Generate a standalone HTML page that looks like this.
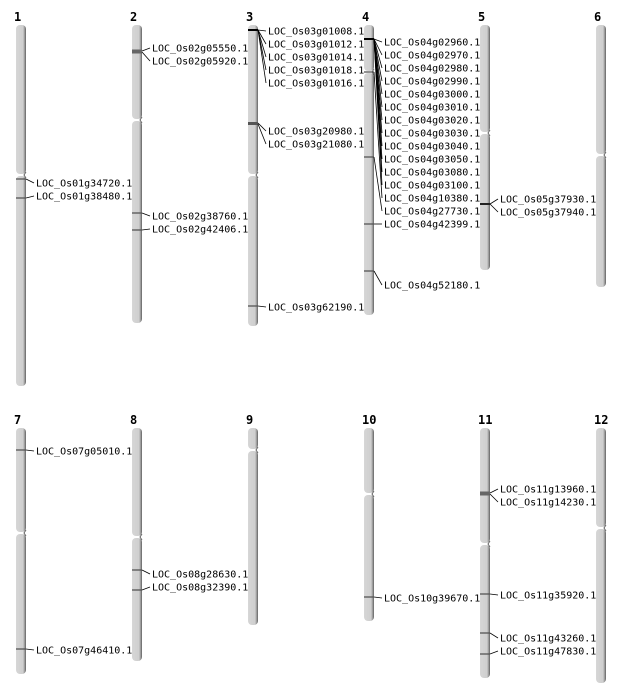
<!DOCTYPE html>
<html><head><meta charset="utf-8"><style>
html,body{margin:0;padding:0;background:#fff;width:634px;height:700px;overflow:hidden}
svg text{font-family:"DejaVu Sans Mono","Liberation Mono",monospace;font-size:10px;fill:#000}
svg text.t{font-family:"DejaVu Sans Mono","Liberation Mono",monospace;font-weight:bold;font-size:12px}
</style></head><body>
<svg id="s" width="634" height="700" xmlns="http://www.w3.org/2000/svg">
<defs><linearGradient id="g" x1="0" x2="1" y1="0" y2="0">
<stop offset="0" stop-color="#d6d6d6"/><stop offset="0.7" stop-color="#cfcfcf"/><stop offset="0.85" stop-color="#a0a0a0"/><stop offset="1" stop-color="#606060"/></linearGradient></defs>
</svg>
<script>
var s=document.getElementById('s'),NS='http://www.w3.org/2000/svg';
function el(n,a,t){var e=document.createElementNS(NS,n);for(var k in a)e.setAttribute(k,a[k]);if(t)e.textContent=t;s.appendChild(e);return e;}
var C=[
['1',16,25,175,386,[[179,183,'LOC_Os01g34720.1'],[198,196,'LOC_Os01g38480.1']]],
['2',132,25,120,323,[[51,48,'LOC_Os02g05550.1','#666',3],[52,61,'LOC_Os02g05920.1','#666',3],[213,216,'LOC_Os02g38760.1'],[230,229,'LOC_Os02g42406.1']]],
['3',248,25,175,326,[[30,31,'LOC_Os03g01008.1','#000',2],[30,44,'LOC_Os03g01012.1','#000',2],[30,57,'LOC_Os03g01014.1','#000',2],[30,70,'LOC_Os03g01018.1','#000',2],[30,83,'LOC_Os03g01016.1','#000',2],[123,131,'LOC_Os03g20980.1','#555',2],[124,144,'LOC_Os03g21080.1','#555',2],[306,307,'LOC_Os03g62190.1']]],
['4',364,25,72,315,[[39,42,'LOC_Os04g02960.1','#000',2],[39,55,'LOC_Os04g02970.1','#000',2],[39,68,'LOC_Os04g02980.1','#000',2],[39,81,'LOC_Os04g02990.1','#000',2],[39,94,'LOC_Os04g03000.1','#000',2],[39,107,'LOC_Os04g03010.1','#000',2],[39,120,'LOC_Os04g03020.1','#000',2],[39,133,'LOC_Os04g03030.1','#000',2],[39,146,'LOC_Os04g03040.1','#000',2],[39,159,'LOC_Os04g03050.1','#000',2],[39,172,'LOC_Os04g03080.1','#000',2],[39,185,'LOC_Os04g03100.1','#000',2],[72,198,'LOC_Os04g10380.1'],[157,211,'LOC_Os04g27730.1'],[224,224,'LOC_Os04g42399.1'],[271,285,'LOC_Os04g52180.1']]],
['5',480,25,133,270,[[204,199,'LOC_Os05g37930.1','#222',2],[204,212,'LOC_Os05g37940.1','#222',2]]],
['6',596,25,155,287,[]],
['7',16,428,533,674,[[450,451,'LOC_Os07g05010.1'],[649,650,'LOC_Os07g46410.1']]],
['8',132,428,537,661,[[570,574,'LOC_Os08g28630.1'],[590,587,'LOC_Os08g32390.1']]],
['9',248,428,450,625,[]],
['10',364,428,494,621,[[597,598,'LOC_Os10g39670.1']]],
['11',480,428,544,678,[[493,489,'LOC_Os11g13960.1','#666',3],[494,502,'LOC_Os11g14230.1','#666',3],[594,595,'LOC_Os11g35920.1'],[633,638,'LOC_Os11g43260.1'],[654,651,'LOC_Os11g47830.1']]],
['12',596,428,528,683,[]]];
C.forEach(function(c){
 var x=c[1],t=c[2],m=c[3],b=c[4],w=10;
 el('text',{x:x-2,y:t-4,'class':'t'},c[0]);
 el('rect',{x:x,y:t,width:w,height:m-t-1,rx:4,ry:4,fill:'url(#g)'});
 el('rect',{x:x,y:m+1,width:w,height:b-m-1,rx:4,ry:4,fill:'url(#g)'});
 el('path',{d:'M'+(x+w)+' '+(m-3)+' L'+(x+w-2)+' '+m+' L'+(x+w)+' '+(m+3),stroke:'#666','stroke-width':1,fill:'none'});
 c[5].forEach(function(k){
  var col=k[3]||'#555',lw=k[4]||1.3;
  el('line',{x1:x,x2:x+w,y1:k[0],y2:k[0],stroke:col,'stroke-width':lw});
  el('line',{x1:x+w,y1:k[0],x2:x+w+8,y2:k[1],stroke:'#000','stroke-width':0.8});
  el('text',{x:x+w+10,y:k[1]+3.5},k[2]);
 });
});
</script>
</body></html>
